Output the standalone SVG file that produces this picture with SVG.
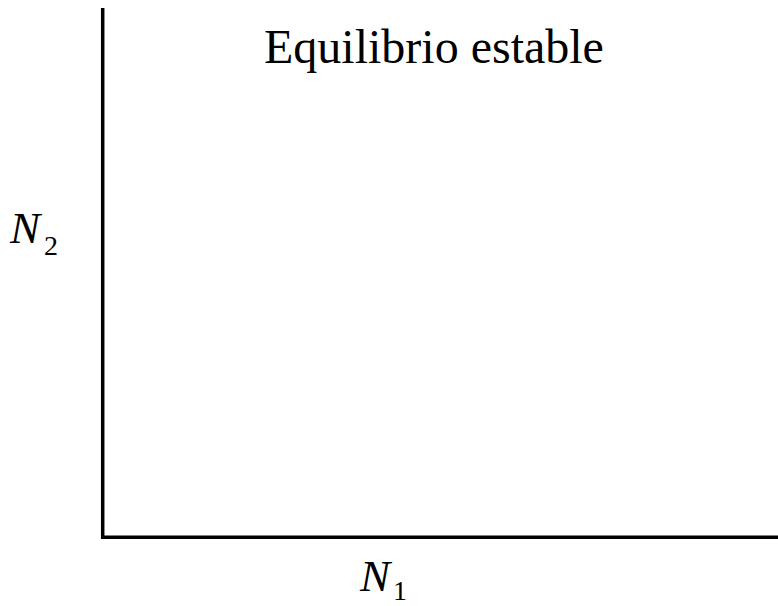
<svg xmlns="http://www.w3.org/2000/svg" width="778" height="606" viewBox="0 0 778 606">
<style>
.axis{stroke:#000;stroke-width:3.5;fill:none}
.title{font-family:"Liberation Serif","Times New Roman",serif;font-size:48px;fill:#000}
.var{font-family:"Liberation Serif","Times New Roman",serif;font-style:italic;font-size:45px;fill:#000}
.sub{font-family:"Liberation Serif","Times New Roman",serif;font-size:28px;fill:#000}
</style>
<rect width="778" height="606" fill="#fff"/>
<g id="axes">
<path class="axis" d="M102.7 8 V537.3 H778"/>
</g>
<g id="title">
<text class="title" x="264" y="63">Equilibrio estable</text>
</g>
<g id="label-n2">
<text x="10" y="243"><tspan class="var">N</tspan><tspan class="sub" dx="4" dy="12">2</tspan></text>
</g>
<g id="label-n1">
<text x="360" y="591"><tspan class="var">N</tspan><tspan class="sub" dx="3" dy="9">1</tspan></text>
</g>
</svg>
